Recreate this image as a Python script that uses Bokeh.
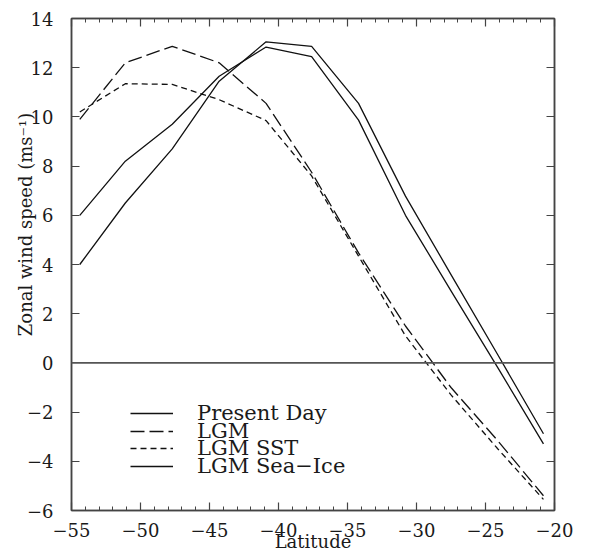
from bokeh.plotting import figure
from bokeh.models import Range1d, LinearAxis, FixedTicker, Span, Legend, LegendItem
from bokeh.embed import file_html
from bokeh.resources import INLINE

# ---- data ----
lat = [-54.4, -51.1, -47.7, -44.3, -40.9, -37.6, -34.2, -30.8, -27.5, -24.1, -20.8]
present_day = [6.0, 8.2, 9.7, 11.65, 12.84, 12.45, 9.87, 6.0, 2.93, -0.2, -3.29]
lgm = [9.9, 12.2, 12.87, 12.2, 10.55, 7.75, 4.47, 1.5, -1.0, -3.17, -5.4]
lgm_sst = [10.2, 11.35, 11.32, 10.7, 9.85, 7.6, 4.34, 1.1, -1.3, -3.5, -5.55]
lgm_sea_ice = [4.0, 6.5, 8.7, 11.45, 13.05, 12.87, 10.55, 6.78, 3.59, 0.32, -2.88]

series_names = ["Present Day", "LGM", "LGM SST", "LGM Sea\u2212Ice"]

x_ticks = [-55, -50, -45, -40, -35, -30, -25, -20]
x_tick_labels = ["\u221255", "\u221250", "\u221245", "\u221240", "\u221235", "\u221230", "\u221225", "\u221220"]
x_minor_ticks = list(range(-55, -19))
y_ticks = [-6, -4, -2, 0, 2, 4, 6, 8, 10, 12, 14]
y_tick_labels = ["\u22126", "\u22124", "\u22122", "0", "2", "4", "6", "8", "10", "12", "14"]

x_title = "Latitude"
y_title = "Zonal wind speed (ms\u207b\u00b9)"

FONT = "DejaVu Serif"
TXT = "#1a1a1a"
AX = "#444444"
W, H = 594, 554

p = figure(width=W, height=H,
           x_range=Range1d(-55, -20), y_range=Range1d(-6, 14),
           output_backend="svg", toolbar_location=None,
           min_border_left=71, min_border_right=40,
           min_border_top=18, min_border_bottom=42)
p.grid.visible = False
p.outline_line_color = AX
p.outline_line_width = 1.5
p.background_fill_color = "white"
p.border_fill_color = "white"


def style_axis(ax, ticks, minor, overrides, show_labels):
    ax.ticker = FixedTicker(ticks=ticks, minor_ticks=minor)
    ax.major_label_overrides = overrides
    ax.axis_line_color = AX
    ax.axis_line_width = 1.5
    ax.major_tick_in = 8
    ax.major_tick_out = 0
    ax.minor_tick_in = 4
    ax.minor_tick_out = 0
    ax.major_tick_line_color = AX
    ax.major_tick_line_width = 1.2
    ax.minor_tick_line_color = AX if minor else None
    ax.minor_tick_line_width = 1.0
    ax.major_label_text_font = FONT
    if show_labels:
        ax.major_label_text_font_size = "18px"
        ax.major_label_text_color = TXT
    else:
        ax.major_label_text_font_size = "0px"
        ax.major_label_text_color = None
        ax.major_label_standoff = 0


xo = {t: l for t, l in zip(x_ticks, x_tick_labels)}
yo = {t: l for t, l in zip(y_ticks, y_tick_labels)}

xb = p.xaxis[0]
style_axis(xb, x_ticks, x_minor_ticks, xo, True)
xb.major_label_standoff = 12
xb.axis_label = x_title
xb.axis_label_text_font = FONT
xb.axis_label_text_font_size = "18px"
xb.axis_label_text_font_style = "normal"
xb.axis_label_text_color = TXT
xb.axis_label_standoff = -9

yl = p.yaxis[0]
style_axis(yl, y_ticks, [], yo, True)
yl.major_label_standoff = 18
# leading no-break spaces lift the centred title towards the top, as in the original
yl.axis_label = "\u00a0" * 14 + y_title
yl.axis_label_text_font = FONT
yl.axis_label_text_font_size = "18px"
yl.axis_label_text_font_style = "normal"
yl.axis_label_text_color = TXT
yl.axis_label_standoff = -12

xt = LinearAxis()
style_axis(xt, x_ticks, x_minor_ticks, xo, False)
p.add_layout(xt, "above")

yr = LinearAxis()
style_axis(yr, y_ticks, [], yo, False)
p.add_layout(yr, "right")

# zero line
p.add_layout(Span(location=0, dimension="width", line_color="#555555", line_width=1.8))

# curves
r_pd = p.line(lat, present_day, line_color="#111111", line_width=1.3)
r_lgm = p.line(lat, lgm, line_color="#111111", line_width=1.3, line_dash="14 5")
r_sst = p.line(lat, lgm_sst, line_color="#111111", line_width=1.3, line_dash="6 4")
r_ice = p.line(lat, lgm_sea_ice, line_color="#111111", line_width=1.3)

renderers = [r_pd, r_lgm, r_sst, r_ice]
legend_bottoms = [82, 64, 47, 29]  # px above the frame bottom, one row each
for name, r, yb in zip(series_names, renderers, legend_bottoms):
    lg = Legend(items=[LegendItem(label=name, renderers=[r])],
                location=(59, yb), padding=0, margin=0, spacing=0,
                glyph_width=43, glyph_height=30, label_height=30,
                label_standoff=24,
                label_text_font=FONT, label_text_font_size="21px",
                label_text_color=TXT,
                border_line_color=None, background_fill_alpha=0)
    p.add_layout(lg)

open("out.html", "w").write(file_html(p, INLINE))
